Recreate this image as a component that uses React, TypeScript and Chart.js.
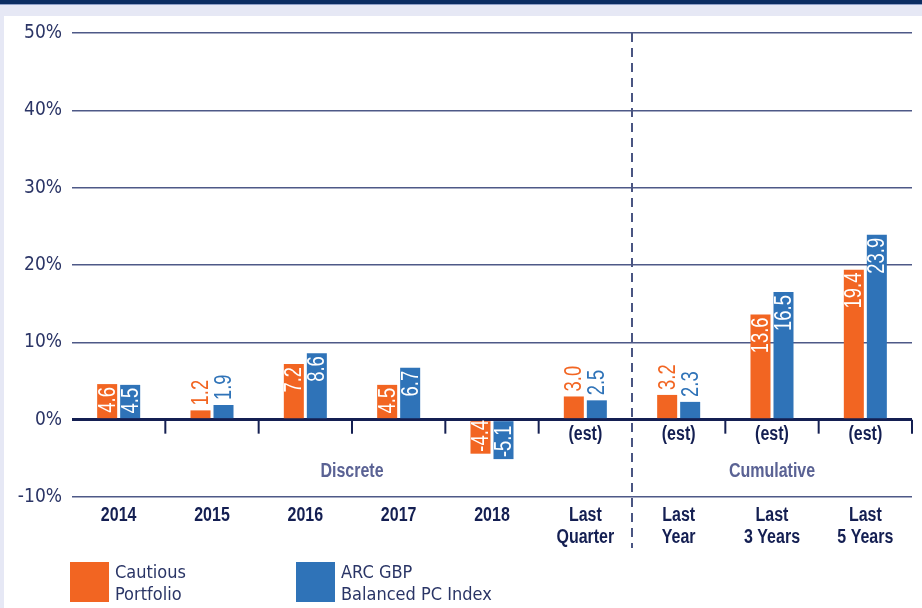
import React, { useEffect, useRef } from "react";
import { Chart, registerables } from "chart.js";

Chart.register(...registerables);

// ---- data ----
const categories: string[][] = [
  ["2014"],
  ["2015"],
  ["2016"],
  ["2017"],
  ["2018"],
  ["Last", "Quarter"],
  ["Last", "Year"],
  ["Last", "3 Years"],
  ["Last", "5 Years"],
];
const cautiousPortfolio = [4.6, 1.2, 7.2, 4.5, -4.4, 3.0, 3.2, 13.6, 19.4];
const arcBalancedIndex = [4.5, 1.9, 8.6, 6.7, -5.1, 2.5, 2.3, 16.5, 23.9];
const estNotes = ["", "", "", "", "", "(est)", "(est)", "(est)", "(est)"];
const groupLabels = ["Discrete", "Cumulative"];
const groupStart = [0, 6];
const groupEnd = [5, 8];
const dividerAfter = 5; // dashed line between category 5 and 6
const seriesNames = [["Cautious", "Portfolio"], ["ARC GBP", "Balanced PC Index"]];

const ORANGE = "#f26522";
const BLUE = "#2f73b8";
const NAVY = "#141f52";
const GRID = "#4e5987";
const LAVENDER = "#e6e8f5";
const COND = '"DejaVu Sans Condensed", "Liberation Sans", sans-serif';
const ARIAL = '"Liberation Sans", Arial, sans-serif';
const SQUEEZE = 0.8;

const insideMin = 4;

function narrowText(
  ctx: CanvasRenderingContext2D,
  text: string,
  x: number,
  y: number,
  font: string,
  color: string,
  align: CanvasTextAlign = "center"
) {
  ctx.save();
  ctx.font = font;
  ctx.fillStyle = color;
  ctx.textAlign = align;
  ctx.textBaseline = "middle";
  ctx.translate(x, y);
  ctx.scale(SQUEEZE, 1);
  ctx.fillText(text, 0, 0);
  ctx.restore();
}

const decorPlugin = {
  id: "decor",
  beforeDatasetsDraw(chart: any) {
    const { ctx, chartArea } = chart;
    const x = chart.scales.x;
    const y = chart.scales.y;
    const y0 = y.getPixelForValue(0);
    const n = categories.length;
    const half = (x.getPixelForValue(1) - x.getPixelForValue(0)) / 2;
    ctx.save();
    // tick marks under zero line at category boundaries
    ctx.strokeStyle = NAVY;
    ctx.lineWidth = 2;
    for (let i = 0; i < n; i++) {
      const bx = x.getPixelForValue(i) + half;
      if (i === dividerAfter) continue;
      ctx.beginPath();
      ctx.moveTo(bx, y0);
      ctx.lineTo(bx, y0 + 14);
      ctx.stroke();
    }
    // dashed divider
    const dx = x.getPixelForValue(dividerAfter) + half;
    ctx.strokeStyle = "#4a5582";
    ctx.lineWidth = 2;
    ctx.setLineDash([9, 6]);
    ctx.beginPath();
    ctx.moveTo(dx, chartArea.top);
    ctx.lineTo(dx, chartArea.bottom + 51);
    ctx.stroke();
    ctx.setLineDash([]);
    ctx.restore();

    const bold = `bold 20px ${ARIAL}`;
    // (est) notes
    estNotes.forEach((t, i) => {
      if (t) narrowText(ctx, t, x.getPixelForValue(i), y0 + 15, bold, NAVY);
    });
    // group labels
    groupLabels.forEach((g, k) => {
      const left = x.getPixelForValue(groupStart[k]) - half;
      const right = x.getPixelForValue(groupEnd[k]) + half;
      narrowText(ctx, g, (left + right) / 2, y0 + 52, bold, "#5a6294");
    });
    // category labels (x axis)
    categories.forEach((lines, i) => {
      lines.forEach((ln, k) => {
        narrowText(ctx, ln, x.getPixelForValue(i), chartArea.bottom + 18 + k * 22, bold, NAVY);
      });
    });
  },
  afterDatasetsDraw(chart: any) {
    const { ctx } = chart;
    chart.data.datasets.forEach((ds: any, di: number) => {
      const meta = chart.getDatasetMeta(di);
      meta.data.forEach((el: any, i: number) => {
        const v = ds.data[i] as number;
        const txt = v.toFixed(1);
        ctx.save();
        ctx.font = `23px ${ARIAL}`;
        ctx.textBaseline = "middle";
        let oy: number;
        if (Math.abs(v) >= insideMin) {
          ctx.fillStyle = "#ffffff";
          if (v >= 0) {
            oy = el.y + 3;
            ctx.textAlign = "right";
          } else {
            oy = el.y - 2;
            ctx.textAlign = "left";
          }
        } else {
          ctx.fillStyle = ds.backgroundColor;
          oy = el.y - 5;
          ctx.textAlign = "left";
        }
        ctx.translate(el.x + 1, oy);
        ctx.rotate(-Math.PI / 2);
        ctx.scale(SQUEEZE, 1);
        ctx.fillText(txt, 0, 0);
        ctx.restore();
      });
    });
  },
};

export default function App() {
  const ref = useRef<HTMLCanvasElement | null>(null);
  useEffect(() => {
    document.body.style.margin = "0";
    if (!ref.current) return;
    const chart = new Chart(ref.current, {
      type: "bar",
      data: {
        labels: categories,
        datasets: [
          {
            label: "Cautious Portfolio",
            data: cautiousPortfolio,
            backgroundColor: ORANGE,
            barPercentage: 0.87,
            categoryPercentage: 0.493,
          },
          {
            label: "ARC GBP Balanced PC Index",
            data: arcBalancedIndex,
            backgroundColor: BLUE,
            barPercentage: 0.87,
            categoryPercentage: 0.493,
          },
        ],
      },
      options: {
        animation: false,
        responsive: false,
        maintainAspectRatio: false,
        layout: { padding: { top: 33, right: 10, left: 0, bottom: 0 } },
        plugins: {
          legend: { display: false },
          tooltip: { enabled: false },
        },
        scales: {
          x: {
            offset: true,
            grid: { display: false },
            border: { display: false },
            ticks: { display: false },
            afterFit(s: any) {
              s.height = 608 - 497;
            },
          },
          y: {
            min: -10,
            max: 50,
            border: { display: false },
            grid: {
              drawTicks: false,
              color: (c: any) => (c.tick && c.tick.value === 0 ? NAVY : GRID),
              lineWidth: (c: any) => (c.tick && c.tick.value === 0 ? 3 : 1.5),
            },
            ticks: {
              stepSize: 10,
              padding: 10,
              color: "#2b3566",
              font: { family: COND, size: 19 },
              callback: (v: any) => `${v}%`,
            },
            afterFit(s: any) {
              s.width = 72;
            },
          },
        },
      },
      plugins: [decorPlugin],
    } as any);
    return () => chart.destroy();
  }, []);

  const legendText: React.CSSProperties = {
    position: "absolute",
    top: 561,
    font: `18px ${COND}`,
    lineHeight: "22px",
    color: "#2a3566",
    whiteSpace: "nowrap",
  };
  const sw = (left: number, color: string): React.CSSProperties => ({
    position: "absolute",
    left,
    top: 562,
    width: 39,
    height: 40,
    background: color,
  });

  return (
    <div style={{ position: "relative", width: 922, height: 608, background: LAVENDER, overflow: "hidden" }}>
      <div style={{ position: "absolute", left: 0, top: 0, width: 922, height: 4, background: "#0b2d62" }} />
      <div style={{ position: "absolute", left: 0, top: 4, width: 922, height: 1, background: "#8fa0c8" }} />
      <div style={{ position: "absolute", left: 4, top: 16, width: 918, height: 592, background: "#ffffff" }} />
      <canvas ref={ref} width={922} height={608} style={{ position: "absolute", left: 0, top: 0 }} />
      <div style={sw(70, ORANGE)} />
      <div style={{ ...legendText, left: 115 }}>
        {seriesNames[0][0]}
        <br />
        {seriesNames[0][1]}
      </div>
      <div style={sw(296, BLUE)} />
      <div style={{ ...legendText, left: 341 }}>
        {seriesNames[1][0]}
        <br />
        {seriesNames[1][1]}
      </div>
    </div>
  );
}
